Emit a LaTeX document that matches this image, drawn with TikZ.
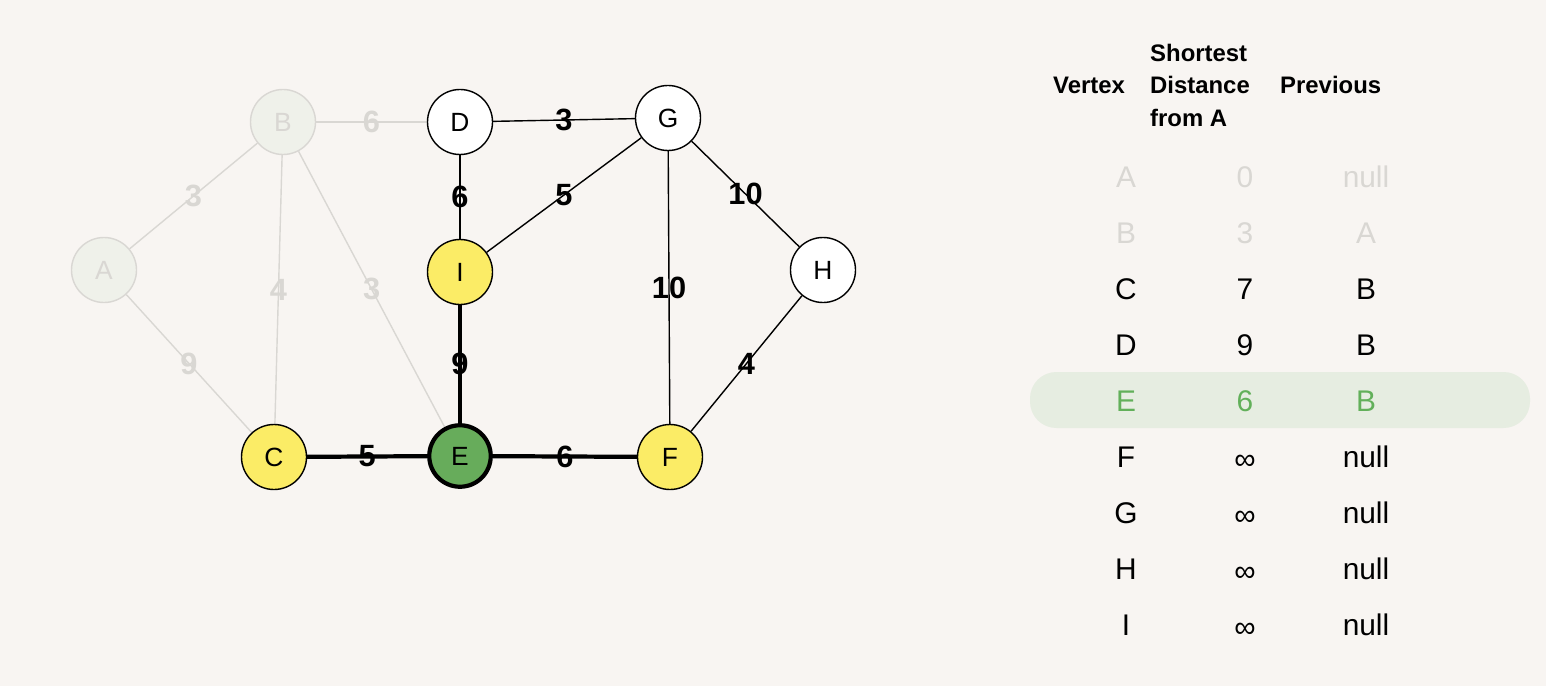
\documentclass[tikz,border=0pt]{standalone}
\usepackage{fontspec}
\setmainfont{Liberation Sans}
\usepackage{tikz}
\usetikzlibrary{math}
\usetikzlibrary{backgrounds}

\definecolor{paper}{HTML}{F8F5F2}
\definecolor{faded}{HTML}{D9D7D3}
\definecolor{fadedfill}{HTML}{EFF1EA}
\definecolor{visit}{HTML}{FBEC66}
\definecolor{current}{HTML}{67AC5B}
\definecolor{rowmark}{HTML}{E6EDE1}
\definecolor{rowtext}{HTML}{62B05A}

\tikzset{
  vertex/.style={circle, draw, line width=0.8pt, minimum size=37pt, inner sep=0pt,
    fill=white, font=\fontsize{15}{17}\selectfont},
  done/.style={vertex, draw=faded, fill=fadedfill, text=faded},
  seen/.style={vertex, fill=visit},
  active/.style={vertex, fill=current, line width=2.4pt, minimum size=35pt},
  edge/.style={line width=0.8pt},
  oldedge/.style={line width=0.8pt, draw=faded},
  treeedge/.style={line width=2.4pt},
  weight/.style={font=\bfseries\fontsize{17.5}{20}\selectfont, inner sep=0pt},
  head/.style={font=\bfseries\fontsize{13.6}{18.5}\selectfont, anchor=west, align=left},
  cell/.style={font=\fontsize{17}{19}\selectfont},
  infcell/.style={cell, yshift=-3pt}
}

\begin{document}
\begin{tikzpicture}[x=0.02cm, y=-0.02cm]

  \tikzmath{
    \colV = 1126; % column vertex
    \colD = 1245; % column distance
    \colP = 1366; % column previous
  }

  \useasboundingbox (0,0) rectangle (1546,686);

  % vertices of the graph
  \node[done]   (A) at (104,270) {A};
  \node[done]   (B) at (283,122) {B};
  \node[vertex] (D) at (460,122) {D};
  \node[vertex] (G) at (668,118) {G};
  \node[seen]   (I) at (460,272) {I};
  \node[vertex] (H) at (823,270) {H};
  \node[seen]   (C) at (274,457) {C};
  \node[active] (E) at (460,456) {E};
  \node[seen]   (F) at (670,457) {F};

  \begin{scope}[on background layer]
    \fill[paper] (0,0) rectangle (1546,686);

    % edges already settled
    \draw[oldedge] (A) -- (B) node[midway, weight, text=faded] {3};
    \draw[oldedge] (A) -- (C) node[midway, weight, text=faded] {9};
    \draw[oldedge] (B) -- (D) node[midway, weight, text=faded] {6};
    \draw[oldedge] (B) -- (C) node[midway, weight, text=faded] {4};
    \draw[oldedge] (B) -- (E) node[midway, weight, text=faded] {3};

    % remaining edges
    \draw[edge] (D) -- (G) node[midway, weight] {3};
    \draw[edge] (D) -- (I) node[midway, weight] {6};
    \draw[edge] (I) -- (G) node[midway, weight] {5};
    \draw[edge] (G) -- (H) node[midway, weight] {10};
    \draw[edge] (G) -- (F) node[midway, weight] {10};
    \draw[edge] (H) -- (F) node[midway, weight] {4};

    % edges out of the current vertex E
    \draw[treeedge] (C) -- (E) node[midway, weight] {5};
    \draw[treeedge] (I) -- (E) node[midway, weight] {9};
    \draw[treeedge] (E) -- (F) node[midway, weight] {6};

    % highlighted row
    \fill[rowmark, rounded corners=15pt] (1030,372) rectangle (1530,428);
  \end{scope}

  % table header
  \node[head] (hV) at (1047,85) {Vertex};
  \node[head] (hD) at (1144,85) {Shortest\\Distance\\from A};
  \node[head] (hP) at (1274,85) {Previous};

  % table rows
  \node[cell, text=faded] (vA) at (\colV,177) {A};
  \node[cell, text=faded] (dA) at (\colD,177) {0};
  \node[cell, text=faded] (pA) at (\colP,177) {null};

  \node[cell, text=faded] (vB) at (\colV,233) {B};
  \node[cell, text=faded] (dB) at (\colD,233) {3};
  \node[cell, text=faded] (pB) at (\colP,233) {A};

  \node[cell] (vC) at (\colV,289) {C};
  \node[cell] (dC) at (\colD,289) {7};
  \node[cell] (pC) at (\colP,289) {B};

  \node[cell] (vD) at (\colV,345) {D};
  \node[cell] (dD) at (\colD,345) {9};
  \node[cell] (pD) at (\colP,345) {B};

  \node[cell, text=rowtext] (vE) at (\colV,401) {E};
  \node[cell, text=rowtext] (dE) at (\colD,401) {6};
  \node[cell, text=rowtext] (pE) at (\colP,401) {B};

  \node[cell]    (vF) at (\colV,457) {F};
  \node[infcell] (dF) at (\colD,457) {∞};
  \node[cell]    (pF) at (\colP,457) {null};

  \node[cell]    (vG) at (\colV,513) {G};
  \node[infcell] (dG) at (\colD,513) {∞};
  \node[cell]    (pG) at (\colP,513) {null};

  \node[cell]    (vH) at (\colV,569) {H};
  \node[infcell] (dH) at (\colD,569) {∞};
  \node[cell]    (pH) at (\colP,569) {null};

  \node[cell]    (vI) at (\colV,625) {I};
  \node[infcell] (dI) at (\colD,625) {∞};
  \node[cell]    (pI) at (\colP,625) {null};

\end{tikzpicture}
\end{document}
